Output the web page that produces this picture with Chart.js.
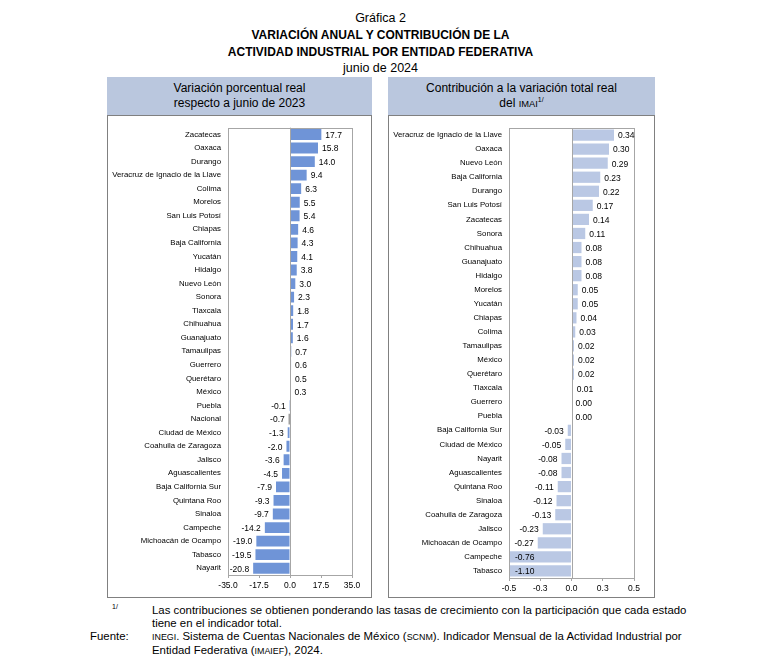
<!DOCTYPE html>
<html>
<head>
<meta charset="utf-8">
<script src="https://cdn.jsdelivr.net/npm/chart.js@4"></script>
<style>
  body { margin: 0; background: #fff; font-family: "Liberation Sans", Arial, sans-serif; color: #000; }
  .page { position: relative; width: 761px; height: 664px; }
  .t { position: absolute; left: 0; width: 761px; text-align: center; white-space: nowrap; }
  .head { position: absolute; top: 77px; height: 38px; background: #BAC7DE; text-align: center; font-size: 12px; line-height: 15px; padding-top: 4px; box-sizing: border-box; white-space: nowrap; }
  .panel { position: absolute; top: 115px; height: 483px; border: 1px solid #808080; box-sizing: border-box; }
  .panel canvas { position: absolute; left: 0; top: 0; }
  .sc { font-size: 0.78em; }
  .sup { font-size: 7px; position: relative; top: -5px; line-height: 0; }
  .foot { position: absolute; font-size: 11.4px; line-height: 13px; white-space: nowrap; }
</style>
</head>
<body>
<div class="page">
  <div class="t" style="top:11px;font-size:12.5px;">Gráfica 2</div>
  <div class="t" style="top:28px;font-size:12px;font-weight:bold;">VARIACIÓN ANUAL Y CONTRIBUCIÓN DE LA</div>
  <div class="t" style="top:45px;font-size:12px;font-weight:bold;">ACTIVIDAD INDUSTRIAL POR ENTIDAD FEDERATIVA</div>
  <div class="t" style="top:61px;font-size:12.5px;">junio de 2024</div>

  <div class="head" style="left:107px;width:265px;">Variación porcentual real<br>respecto a junio de 2023</div>
  <div class="head" style="left:388px;width:267px;">Contribución a la variación total real<br>del <span class="sc">IMAI</span><span class="sup">1/</span></div>

  <div class="panel" style="left:107px;width:265px;"><canvas id="leftChart" width="263" height="481"></canvas></div>
  <div class="panel" style="left:388px;width:267px;"><canvas id="rightChart" width="265" height="481"></canvas></div>

  <div class="foot" style="left:112px;top:600px;font-size:7px;">1/</div>
  <div class="foot" style="left:152px;top:604px;">Las contribuciones se obtienen ponderando las tasas de crecimiento con la participación que cada estado<br>tiene en el indicador total.</div>
  <div class="foot" style="left:90px;top:630px;">Fuente:</div>
  <div class="foot" style="left:152px;top:630px;"><span class="sc">INEGI</span>. Sistema de Cuentas Nacionales de México (<span class="sc">SCNM</span>). Indicador Mensual de la Actividad Industrial por<br>Entidad Federativa (<span class="sc">IMAIEF</span>), 2024.</div>
</div>

<script>
// Variación porcentual real respecto a junio de 2023
const leftStates = [
  "Zacatecas", "Oaxaca", "Durango", "Veracruz de Ignacio de la Llave", "Colima", "Morelos",
  "San Luis Potosí", "Chiapas", "Baja California", "Yucatán", "Hidalgo", "Nuevo León",
  "Sonora", "Tlaxcala", "Chihuahua", "Guanajuato", "Tamaulipas", "Guerrero", "Querétaro",
  "México", "Puebla", "Nacional", "Ciudad de México", "Coahuila de Zaragoza", "Jalisco",
  "Aguascalientes", "Baja California Sur", "Quintana Roo", "Sinaloa", "Campeche",
  "Michoacán de Ocampo", "Tabasco", "Nayarit"
];
const leftValues = [
  17.7, 15.8, 14.0, 9.4, 6.3, 5.5, 5.4, 4.6, 4.3, 4.1, 3.8, 3.0, 2.3, 1.8, 1.7, 1.6,
  0.7, 0.6, 0.5, 0.3, -0.1, -0.7, -1.3, -2.0, -3.6, -4.5, -7.9, -9.3, -9.7, -14.2,
  -19.0, -19.5, -20.8
];
const leftTicks = [-35.0, -17.5, 0.0, 17.5, 35.0];

// Contribución a la variación total real del IMAI
const rightStates = [
  "Veracruz de Ignacio de la Llave", "Oaxaca", "Nuevo León", "Baja California", "Durango",
  "San Luis Potosí", "Zacatecas", "Sonora", "Chihuahua", "Guanajuato", "Hidalgo", "Morelos",
  "Yucatán", "Chiapas", "Colima", "Tamaulipas", "México", "Querétaro", "Tlaxcala",
  "Guerrero", "Puebla", "Baja California Sur", "Ciudad de México", "Nayarit",
  "Aguascalientes", "Quintana Roo", "Sinaloa", "Coahuila de Zaragoza", "Jalisco",
  "Michoacán de Ocampo", "Campeche", "Tabasco"
];
const rightValues = [
  0.34, 0.30, 0.29, 0.23, 0.22, 0.17, 0.14, 0.11, 0.08, 0.08, 0.08, 0.05, 0.05, 0.04,
  0.03, 0.02, 0.02, 0.02, 0.01, 0.00, 0.00, -0.03, -0.05, -0.08, -0.08, -0.11, -0.12,
  -0.13, -0.23, -0.27, -0.76, -1.10
];
const rightTicks = [-0.5, -0.25, 0.0, 0.25, 0.5];

const FONT = "'Liberation Sans', Arial, sans-serif";

// frame, zero line and value labels
const decorPlugin = {
  id: "decor",
  afterDatasetsDraw(chart, args, opts) {
    const ctx = chart.ctx;
    const area = chart.chartArea;
    const x0 = chart.scales.x.getPixelForValue(0);
    ctx.save();
    ctx.strokeStyle = "#A6A6A6";
    ctx.lineWidth = 1;
    ctx.strokeRect(Math.round(area.left) + 0.5, Math.round(area.top) + 0.5,
      Math.round(area.right - area.left), Math.round(area.bottom - area.top));
    ctx.beginPath();
    ctx.moveTo(Math.round(x0) + 0.5, area.top);
    ctx.lineTo(Math.round(x0) + 0.5, area.bottom);
    ctx.stroke();

    ctx.fillStyle = "#000";
    ctx.font = "8.5px " + FONT;
    ctx.textBaseline = "middle";
    const values = chart.data.datasets[0].data;
    chart.getDatasetMeta(0).data.forEach(function (bar, i) {
      const v = values[i];
      const txt = v.toFixed(opts.decimals);
      if (bar.x < area.left) {
        ctx.textAlign = "left";
        ctx.fillText(txt, area.left + 6, bar.y + 1);
      } else if (v < 0) {
        ctx.textAlign = "right";
        ctx.fillText(txt, bar.x - 4, bar.y + 1);
      } else {
        ctx.textAlign = "left";
        ctx.fillText(txt, Math.max(bar.x, x0) + 4, bar.y + 1);
      }
    });
    ctx.restore();
  },
};

function makeChart(id, labels, values, colors, ticks, decimals, pad, yWidth, xHeight) {
  const ctx = document.getElementById(id).getContext("2d");
  return new Chart(ctx, {
    type: "bar",
    data: {
      labels: labels,
      datasets: [
        {
          data: values,
          backgroundColor: colors,
          borderWidth: 0,
          barPercentage: 0.8,
          categoryPercentage: 1.0,
        },
      ],
    },
    options: {
      indexAxis: "y",
      responsive: false,
      animation: false,
      layout: { padding: pad },
      plugins: {
        legend: { display: false },
        tooltip: { enabled: false },
        decor: { decimals: decimals },
      },
      scales: {
        x: {
          min: ticks[0],
          max: ticks[ticks.length - 1],
          afterBuildTicks: function (scale) {
            scale.ticks = ticks.map(function (v) { return { value: v }; });
          },
          afterFit: function (scale) {
            scale.height = xHeight;
            scale.paddingLeft = 0;
            scale.paddingRight = 0;
          },
          grid: { drawOnChartArea: false, color: "#A6A6A6", tickLength: 3 },
          border: { display: false },
          ticks: {
            color: "#000",
            font: { size: 8.5, family: FONT },
            padding: 3,
            maxRotation: 0,
            callback: function (value) { return Number(value).toFixed(1); },
          },
        },
        y: {
          afterFit: function (scale) { scale.width = yWidth; },
          grid: { display: false, drawTicks: false },
          border: { display: false },
          ticks: {
            color: "#000",
            font: { size: 7.8, family: FONT },
            padding: 7,
            autoSkip: false,
          },
        },
      },
    },
    plugins: [decorPlugin],
  });
}

document.addEventListener("DOMContentLoaded", function () {
  const leftColors = leftStates.map(function (s) { return s === "Nacional" ? "#404040" : "#6F94D7"; });
  makeChart("leftChart", leftStates, leftValues, leftColors, leftTicks, 1,
    { top: 8, right: 19, left: 0, bottom: 0 }, 120, 22);

  const rightColors = rightStates.map(function () { return "#BAC8E4"; });
  makeChart("rightChart", rightStates, rightValues, rightColors, rightTicks, 2,
    { top: 12, right: 20, left: 0, bottom: 0 }, 120, 19);
});
</script>
</body>
</html>
